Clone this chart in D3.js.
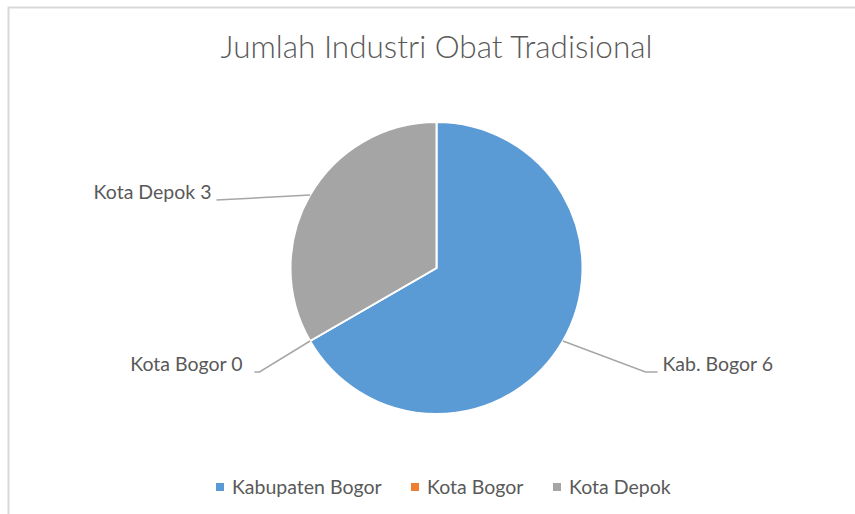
<!DOCTYPE html>
<html>
<head>
<meta charset="utf-8">
<script src="https://cdn.jsdelivr.net/npm/d3@7"></script>
<style>
  body { margin: 0; background: #fff; }
  text { font-family: Lato, "Open Sans", sans-serif; fill: #595959; }
</style>
</head>
<body>
<div id="root"></div>
<script>
// chart data
const categories = ['Kabupaten Bogor', 'Kota Bogor', 'Kota Depok'];
const shortNames = ['Kab. Bogor', 'Kota Bogor', 'Kota Depok'];
const values = [6, 0, 3];
const colors = ['#5B9BD5', '#ED7D31', '#A5A5A5'];
const title = 'Jumlah Industri Obat Tradisional';

const width = 855;
const height = 514;
const cx = 436.5, cy = 268, radius = 146;

// where Excel put the data labels (line end, relative to centre)
const labelEnds = [[221, 104], [-182, 104], [-220, -68]];
const elbows = [[209, 104], [-177, 104], null];
const labelGaps = [5, 12, 5];

const svg = d3.select('#root')
    .append('svg')
        .attr('width', width)
        .attr('height', height);

// chart frame
svg.append('rect')
    .attr('x', 8.5)
    .attr('y', 7.5)
    .attr('width', 900)
    .attr('height', 600)
    .attr('fill', 'none')
    .attr('stroke', '#d9d9d9')
    .attr('stroke-width', 2);

svg.append('text')
    .attr('x', cx)
    .attr('y', 58)
    .attr('text-anchor', 'middle')
    .style('font-size', '31.5px')
    .style('font-weight', 300)
    .text(title);

const pie = d3.pie().sort(null).value(d => d);
const arcs = pie(values);
const arc = d3.arc().innerRadius(0).outerRadius(radius);

const g = svg.append('g')
    .attr('transform', `translate(${cx}, ${cy})`);

g.selectAll('path')
    .data(arcs)
    .enter()
    .append('path')
        .attr('d', arc)
        .attr('fill', (d, i) => colors[i])
        .attr('stroke', '#fff')
        .attr('stroke-width', 2);

// leader lines + labels
arcs.forEach((d, i) => {
    const mid = (d.startAngle + d.endAngle) / 2;
    const start = [radius * Math.sin(mid), -radius * Math.cos(mid)];
    const pts = [start];
    if (elbows[i]) pts.push(elbows[i]);
    pts.push(labelEnds[i]);
    g.append('path')
        .attr('d', d3.line()(pts))
        .attr('fill', 'none')
        .attr('stroke', '#a6a6a6')
        .attr('stroke-width', 1.5);
    const right = labelEnds[i][0] > 0;
    g.append('text')
        .attr('x', labelEnds[i][0] + (right ? labelGaps[i] : -labelGaps[i]))
        .attr('y', labelEnds[i][1] - 1)
        .attr('text-anchor', right ? 'start' : 'end')
        .style('font-size', '19.5px')
        .text(`${shortNames[i]} ${values[i]}`);
});

// legend
const legend = svg.append('g')
    .attr('transform', 'translate(0, 487)');
const legendX = [216, 411, 553];
const item = legend.selectAll('g')
    .data(categories)
    .enter()
    .append('g')
        .attr('transform', (d, i) => `translate(${legendX[i]}, 0)`);
item.append('rect')
    .attr('x', 0)
    .attr('y', -4)
    .attr('width', 8)
    .attr('height', 8)
    .attr('fill', (d, i) => colors[i]);
item.append('text')
    .attr('x', 16)
    .attr('y', 7)
    .style('font-size', '19.5px')
    .text(d => d);
</script>
</body>
</html>
